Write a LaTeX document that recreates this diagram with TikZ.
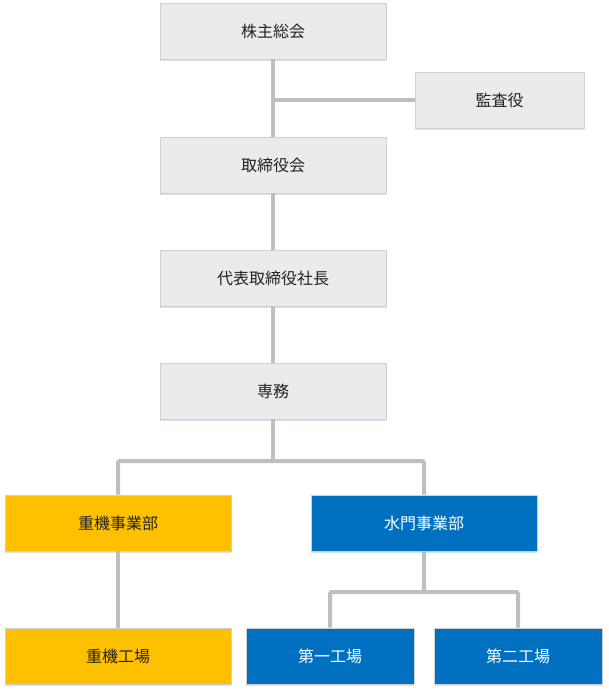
\documentclass[tikz,border=0pt]{standalone}
\usepackage{fontspec}
\newfontfamily\cjk{Noto Sans CJK JP}
\usetikzlibrary{shadows}
\definecolor{boxgray}{HTML}{EBEBEB}
\definecolor{boxyellow}{HTML}{FFC000}
\definecolor{boxblue}{HTML}{0070C0}
\definecolor{edgegray}{HTML}{D0D0D0}
\definecolor{linegray}{HTML}{BFBFBF}
\definecolor{textdark}{HTML}{222222}
\definecolor{shadowblue}{HTML}{D5E3F2}
\tikzset{
  org/.style={draw=edgegray, line width=0.8pt, minimum width=226pt, minimum height=56pt,
    inner sep=0pt, font=\cjk\fontsize{16}{19}\selectfont, text=textdark,
    drop shadow={shadow xshift=0pt, shadow yshift=-2pt, fill=shadowblue, opacity=1}},
  graybox/.style={org, fill=boxgray},
  yellowbox/.style={org, fill=boxyellow},
  bluebox/.style={org, fill=boxblue, text=white},
  conn/.style={draw=linegray, line width=4pt, rounded corners=2pt}
}
\begin{document}
\begin{tikzpicture}[x=1pt,y=-1pt]
\useasboundingbox (0,0) rectangle (609,692);
\coordinate (j1) at (273,100);
\coordinate (j2) at (273,461);
\coordinate (j3) at (424,592);
\node[graybox] (sh) at (273,31) {株主総会};
\node[graybox, minimum width=169pt] (ka) at (499.5,100) {監査役};
\node[graybox] (tr) at (273,165) {取締役会};
\node[graybox] (dh) at (273,278) {代表取締役社長};
\node[graybox] (sm) at (273,391) {専務};
\node[yellowbox] (jj) at (118,523) {重機事業部};
\node[bluebox] (sj) at (424,523) {水門事業部};
\node[yellowbox] (jk) at (118,656) {重機工場};
\node[bluebox, minimum width=168pt] (d1) at (330,656) {第一工場};
\node[bluebox, minimum width=168pt] (d2) at (518,656) {第二工場};
\draw[conn] (sh.south) -- (tr.north);
\draw[conn] (j1) -- (ka.west);
\draw[conn] (tr.south) -- (dh.north);
\draw[conn] (dh.south) -- (sm.north);
\draw[conn] (sm.south) -- (j2);
\draw[conn] (jj.north) |- (j2) -| (sj.north);
\draw[conn] (jj.south) -- (jk.north);
\draw[conn] (sj.south) -- (j3);
\draw[conn] (d1.north) |- (j3) -| (d2.north);
\end{tikzpicture}
\end{document}
